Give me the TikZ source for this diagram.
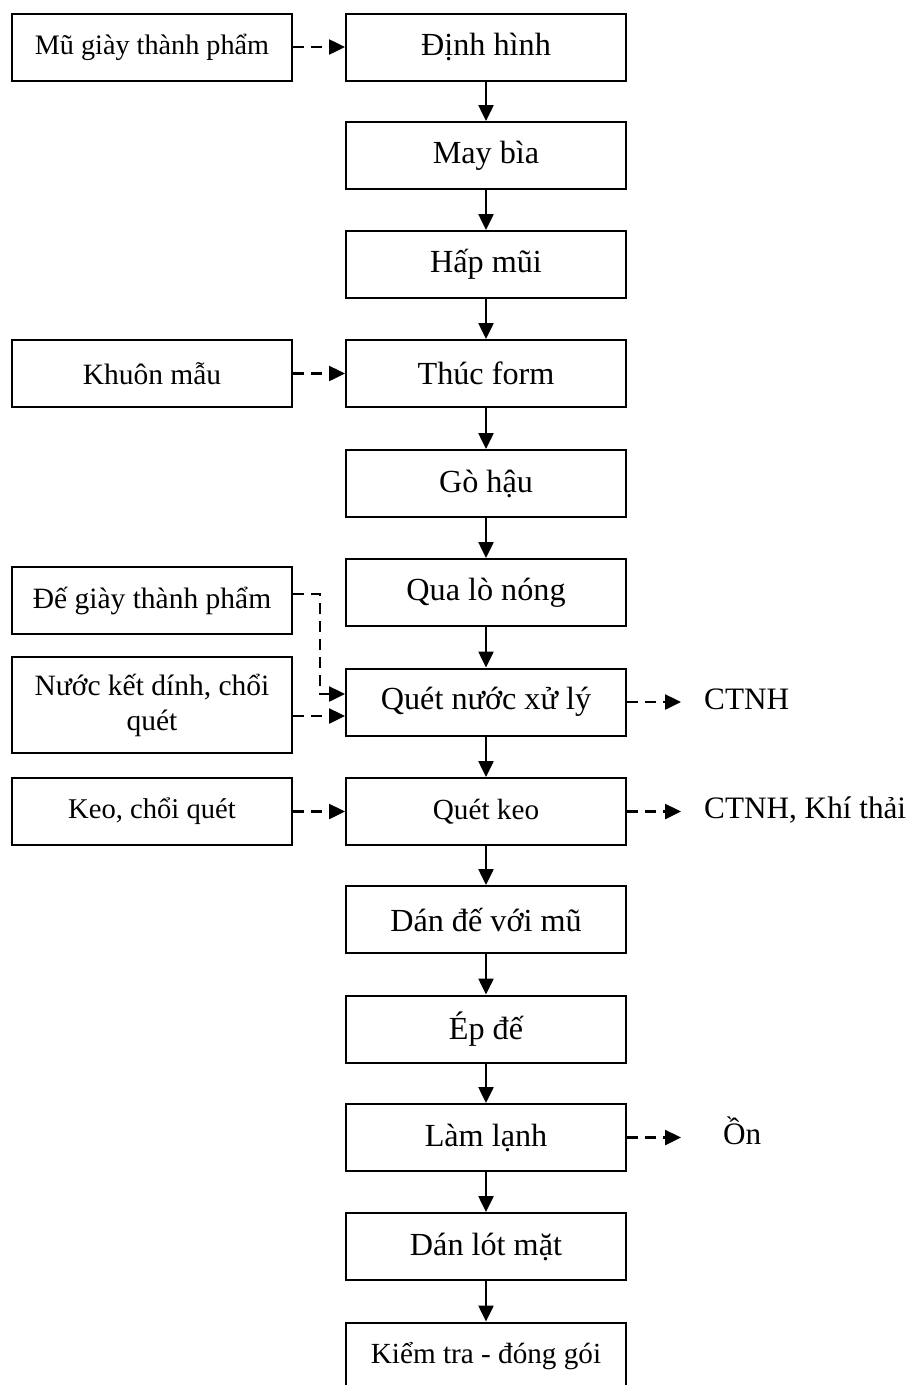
\documentclass[tikz,border=0pt]{standalone}
\usepackage{fontspec}
\setmainfont{Liberation Serif}
\usetikzlibrary{arrows.meta}
\begin{document}
\begin{tikzpicture}[x=1pt,y=-1pt,
  box/.style={draw,line width=2pt,minimum width=280pt,minimum height=67pt,inner sep=0pt,align=center,font=\fontsize{32.2}{37}\selectfont},
  sbox/.style={box,font=\fontsize{29.2}{35}\selectfont},
  lbox/.style={box,font=\fontsize{29.5}{35}\selectfont},
  lbl/.style={inner sep=0pt,anchor=base west,font=\fontsize{31.2}{37}\selectfont},
  flow/.style={line width=2.5pt,-{Triangle[length=16pt,width=15pt]}},
  dflow/.style={flow,dash pattern=on 11pt off 7pt}]
\useasboundingbox (0,0) rectangle (909,1385);
\clip (0,0) rectangle (909,1385);
% main column
\node[box] (b1) at (486,47) {Định hình};
\node[box] (b2) at (486,155.5) {May bìa};
\node[box] (b3) at (486,264.5) {Hấp mũi};
\node[box] (b4) at (486,373.5) {Thúc form};
\node[box] (b5) at (486,483.5) {Gò hậu};
\node[box] (b6) at (486,592.5) {Qua lò nóng};
\node[box] (b7) at (486,702) {Quét nước xử lý};
\node[sbox] (b8) at (486,811.5) {Quét keo};
\node[box] (b9) at (486,919.5) {Dán đế với mũ};
\node[box] (b10) at (486,1029) {Ép đế};
\node[box] (b11) at (486,1137.5) {Làm lạnh};
\node[box] (b12) at (486,1246.5) {Dán lót mặt};
\node[sbox] (b13) at (486,1356) {Kiểm tra - đóng gói};
\foreach \a/\b in {b1/b2,b2/b3,b3/b4,b4/b5,b5/b6,b6/b7,b7/b8,b8/b9,b9/b10,b10/b11,b11/b12,b12/b13}
  \draw[flow] (\a.south) -- (\b.north);
% inputs
\node[lbox,font=\fontsize{28.2}{35}\selectfont] (mu) at (152,47) {Mũ giày thành phẩm};
\node[lbox] (km) at (152,373.5) {Khuôn mẫu};
\node[lbox] (de) at (152,600.5) {Đế giày thành phẩm};
\node[lbox,minimum height=96pt] (nu) at (152,705) {Nước kết dính, chổi\\quét};
\node[lbox,font=\fontsize{28.6}{35}\selectfont] (ke) at (152,811.5) {Keo, chổi quét};
\draw[dflow] (mu.east) -- (b1.west);
\draw[dflow] (km.east) -- (b4.west);
\coordinate (j) at ([xshift=27pt,yshift=6.5pt]de.east);
\draw[dflow] ([yshift=6.5pt]de.east) -- (j) |- ([yshift=8pt]b7.west);
\draw[dflow] ([yshift=-11pt]nu.east) -- ([yshift=-14pt]b7.west);
\draw[dflow] (ke.east) -- (b8.west);
% outputs
\coordinate (e1) at ([xshift=54pt]b7.east);
\coordinate (e2) at ([xshift=54pt]b8.east);
\coordinate (e3) at ([xshift=54pt]b11.east);
\node[lbl] (o1) at (704,709) {CTNH};
\node[lbl] (o2) at (704,818) {CTNH, Khí thải};
\node[lbl] (o3) at (723,1144) {Ồn};
\draw[dflow] (b7.east) -- (e1);
\draw[dflow] (b8.east) -- (e2);
\draw[dflow] (b11.east) -- (e3);
\end{tikzpicture}
\end{document}
